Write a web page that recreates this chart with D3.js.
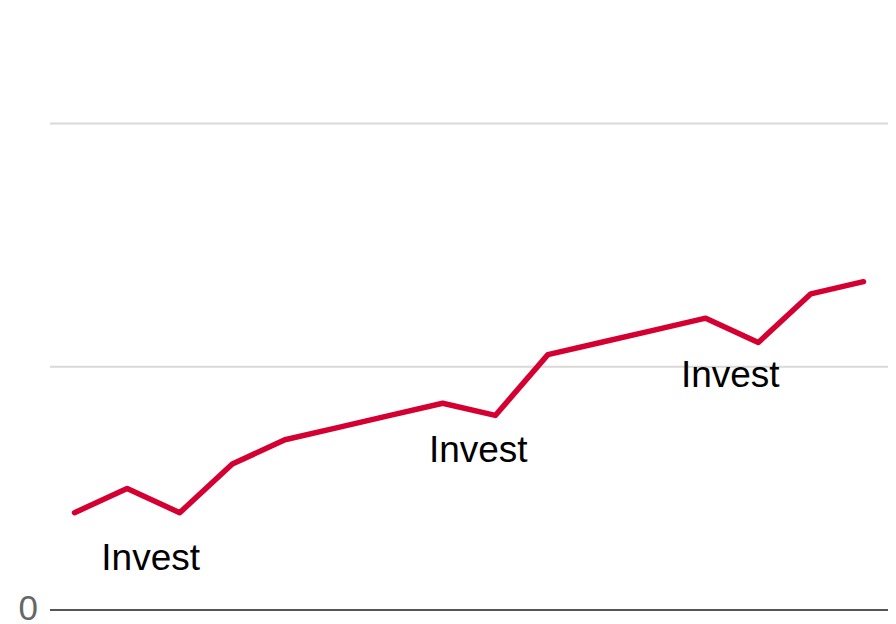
<!DOCTYPE html>
<html>
<head>
<meta charset="utf-8">
<script src="https://cdn.jsdelivr.net/npm/d3@7"></script>
<style>
  body { margin: 0; background: #fff; }
  svg { display: block; font-family: "Liberation Sans", Arial, sans-serif; }
</style>
</head>
<body>
<div id="chart"></div>
<script>
// data
const periods = d3.range(16);
const values = [0.40, 0.50, 0.40, 0.60, 0.70, 0.75, 0.80, 0.85, 0.80, 1.05, 1.10, 1.15, 1.20, 1.10, 1.30, 1.35];
const gridTicks = [0, 1, 2];
const notePoints = [2, 8, 13];
const noteLabels = ["Invest", "Invest", "Invest"];
// label offsets relative to the point (px)
const noteOffsets = [[-29, 57], [-17, 47], [-28, 45]];

const W = 896, H = 624;
const margin = { left: 50, right: 8, top: 2, bottom: 14 };
const width = W - margin.left - margin.right;
const height = H - margin.top - margin.bottom;

const svg = d3.select("#chart").append("svg")
  .attr("width", W).attr("height", H);
const g = svg.append("g")
  .attr("transform", "translate(" + margin.left + "," + margin.top + ")");

const x = d3.scalePoint().domain(periods).range([0, width]).padding(0.466);
const y = d3.scaleLinear().domain([0, 2.5]).range([height, 0]);

// gridlines
g.selectAll(".grid")
  .data(gridTicks.filter(d => d > 0))
  .enter().append("line")
    .attr("class", "grid")
    .attr("x1", 0).attr("x2", width)
    .attr("y1", d => y(d)).attr("y2", d => y(d))
    .attr("stroke", "#d9d9d9")
    .attr("stroke-width", 2);

// baseline
g.append("line")
  .attr("x1", 0).attr("x2", width)
  .attr("y1", y(0)).attr("y2", y(0))
  .attr("stroke", "#555")
  .attr("stroke-width", 2);

g.append("text")
  .attr("x", -12).attr("y", y(0) + 10)
  .attr("text-anchor", "end")
  .attr("font-size", 35)
  .attr("fill", "#666")
  .text("0");

const line = d3.line()
  .x((d, i) => x(periods[i]))
  .y(d => y(d));

g.append("path")
  .datum(values)
  .attr("d", line)
  .attr("fill", "none")
  .attr("stroke", "#d50032")
  .attr("stroke-width", 5.5)
  .attr("stroke-linejoin", "round")
  .attr("stroke-linecap", "round");

g.selectAll(".note")
  .data(notePoints)
  .enter().append("text")
    .attr("class", "note")
    .attr("x", (d, i) => x(periods[d]) + noteOffsets[i][0])
    .attr("y", (d, i) => y(values[d]) + noteOffsets[i][1])
    .attr("text-anchor", "middle")
    .attr("font-size", 37)
    .attr("fill", "#000")
    .text((d, i) => noteLabels[i]);
</script>
</body>
</html>
